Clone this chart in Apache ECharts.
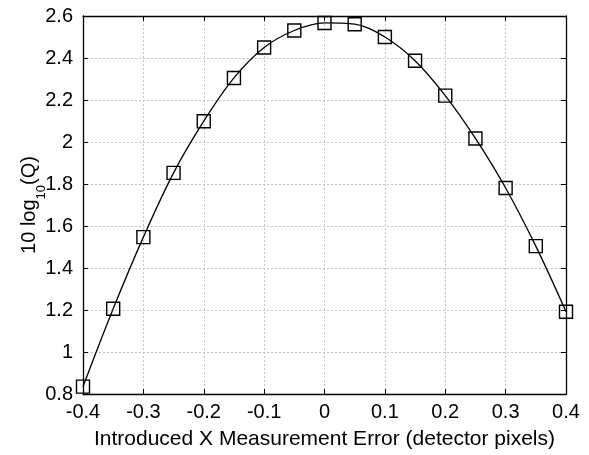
<!DOCTYPE html>
<html><head><meta charset="utf-8">
<script src="https://cdn.jsdelivr.net/npm/echarts@6/dist/echarts.min.js"></script>
<style>html,body{margin:0;padding:0;background:#fff}#c{width:589px;height:455px}</style>
</head><body><div id="c"></div>
<script>
const xValues = [-0.4,-0.35,-0.3,-0.25,-0.2,-0.15,-0.1,-0.05,0,0.05,0.1,0.15,0.2,0.25,0.3,0.35,0.4];
const qValues = [0.835,1.206,1.547,1.853,2.099,2.305,2.45,2.531,2.567,2.561,2.50,2.387,2.221,2.017,1.781,1.504,1.192];
const xTicks = {min:-0.4, max:0.4, step:0.1};
const yTicks = {min:0.8, max:2.6, step:0.2};
const xTitle = 'Introduced X Measurement Error (detector pixels)';

const font = 'Liberation Sans, Arial, sans-serif';
const fmt = v => { const r = Math.round(v*10)/10; return String(r); };
const chart = echarts.init(document.getElementById('c'));
const gridLine = {show:true, lineStyle:{color:'#c4c4c4', type:[2,2], width:1}};
const axisLine = {show:true, onZero:false, lineStyle:{color:'#000', width:1.3}};
const tick = {show:true, inside:true, length:5, lineStyle:{color:'#000', width:1}};
chart.setOption({
  animation:false,
  grid:{left:83, right:23, top:16, bottom:56},
  xAxis:[{
    type:'value', min:xTicks.min, max:xTicks.max, interval:xTicks.step,
    axisLine, axisTick:tick, splitLine:gridLine,
    axisLabel:{color:'#000', fontSize:20, fontFamily:font, margin:8, formatter:fmt},
    name:xTitle, nameLocation:'middle', nameGap:35, nameMoveOverlap:false,
    nameTextStyle:{color:'#000', fontSize:21, fontFamily:font}
  },{
    type:'value', position:'top', min:xTicks.min, max:xTicks.max, interval:xTicks.step,
    axisLine, axisTick:tick, axisLabel:{show:false}, splitLine:{show:false}
  }],
  yAxis:[{
    type:'value', min:yTicks.min, max:yTicks.max, interval:yTicks.step,
    axisLine, axisTick:tick, splitLine:gridLine,
    axisLabel:{color:'#000', fontSize:20, fontFamily:font, margin:10, formatter:fmt},
    name:'{a|10 log}{s|10}{a|(Q)}', nameLocation:'middle', nameGap:44, nameMoveOverlap:false,
    nameTextStyle:{color:'#000', fontFamily:font,
      rich:{a:{fontSize:20, fontFamily:font, color:'#000'},
            s:{fontSize:13, fontFamily:font, color:'#000', verticalAlign:'bottom', padding:[0,0,-9,0]}}}
  },{
    type:'value', position:'right', min:yTicks.min, max:yTicks.max, interval:yTicks.step,
    axisLine, axisTick:tick, axisLabel:{show:false}, splitLine:{show:false}
  }],
  series:[{
    type:'line', data:xValues.map((x,i)=>[x,qValues[i]]),
    smooth:0.35, symbol:'rect', symbolSize:13,
    lineStyle:{color:'#000', width:1.3},
    itemStyle:{color:'rgba(0,0,0,0)', borderColor:'#000', borderWidth:1.4},
    clip:false
  }]
});
</script></body></html>
